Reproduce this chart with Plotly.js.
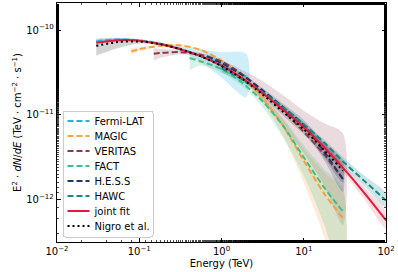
<!DOCTYPE html>
<html>
<head>
<meta charset="utf-8">
<script src="https://cdn.plot.ly/plotly-3.0.1.min.js"></script>
<style>html,body{margin:0;padding:0;background:#fff;}#plot{width:398px;height:272px;}</style>
</head>
<body>
<div id="plot"></div>
<script>
// ---- data (E in TeV, E^2 dN/dE in TeV cm^-2 s^-1) ----
const seriesNames = ["Fermi-LAT", "MAGIC", "VERITAS", "FACT", "H.E.S.S", "HAWC", "joint fit", "Nigro et al."];

const E_fermi   = [0.03, 0.056, 0.1, 0.178, 0.316, 0.562, 1, 2];
const F_fermi   = [7.41e-11, 7.76e-11, 7.59e-11, 6.92e-11, 6.03e-11, 4.95e-11, 3.89e-11, 2.82e-11];
const Fhi_fermi = [7.67e-11, 8.04e-11, 7.85e-11, 7.24e-11, 6.46e-11, 5.89e-11, 5.50e-11, 5.25e-11];
const Flo_fermi = [7.16e-11, 7.50e-11, 7.33e-11, 6.61e-11, 5.62e-11, 4.17e-11, 2.75e-11, 1.62e-11];

const E_magic   = [0.08, 0.1, 0.178, 0.316, 0.562, 1, 1.78, 3.16, 5.62, 10, 17.8, 30];
const F_magic   = [5.62e-11, 5.96e-11, 6.53e-11, 6.61e-11, 5.82e-11, 4.37e-11, 2.82e-11, 1.58e-11, 7.41e-12, 2.88e-12, 1.17e-12, 6.03e-13];
const Fhi_magic = [6.17e-11, 6.31e-11, 6.76e-11, 6.76e-11, 5.96e-11, 4.47e-11, 2.95e-11, 1.74e-11, 8.91e-12, 3.98e-12, 2.09e-12, 1.26e-12];
const Flo_magic = [5.13e-11, 5.62e-11, 6.31e-11, 6.46e-11, 5.69e-11, 4.27e-11, 2.66e-11, 1.38e-11, 5.62e-12, 1.58e-12, 3.55e-13, 5.0e-14];

const E_veritas   = [0.15, 0.178, 0.316, 0.562, 1, 1.78, 3.16, 5.62, 10, 17.8, 30];
const F_veritas   = [5.25e-11, 5.37e-11, 5.50e-11, 5.13e-11, 4.27e-11, 3.02e-11, 1.91e-11, 1.12e-11, 6.31e-12, 3.39e-12, 1.74e-12];
const Fhi_veritas = [6.10e-11, 6.03e-11, 5.82e-11, 5.37e-11, 4.47e-11, 3.39e-11, 2.51e-11, 1.70e-11, 1.12e-11, 7.94e-12, 6.03e-12];
const Flo_veritas = [4.37e-11, 4.68e-11, 5.19e-11, 4.90e-11, 4.07e-11, 2.69e-11, 1.45e-11, 7.41e-12, 3.55e-12, 1.45e-12, 5.01e-13];

const E_fact   = [0.41, 0.562, 1, 1.78, 3.16, 5.62, 10, 17.8, 30];
const F_fact   = [4.68e-11, 4.27e-11, 3.47e-11, 2.40e-11, 1.45e-11, 7.41e-12, 3.16e-12, 1.38e-12, 7.24e-13];
const Fhi_fact = [5.25e-11, 4.68e-11, 3.72e-11, 2.57e-11, 1.62e-11, 9.12e-12, 4.37e-12, 2.29e-12, 1.38e-12];
const Flo_fact = [3.39e-11, 3.80e-11, 3.16e-11, 2.19e-11, 1.23e-11, 5.37e-12, 1.91e-12, 5.01e-13, 1.0e-13];

const E_hess   = [0.66, 1, 1.78, 3.16, 5.62, 10, 17.8, 30];
const F_hess   = [4.90e-11, 4.07e-11, 2.95e-11, 1.95e-11, 1.23e-11, 7.59e-12, 3.63e-12, 1.74e-12];
const Fhi_hess = [5.25e-11, 4.27e-11, 3.09e-11, 2.07e-11, 1.35e-11, 8.71e-12, 4.57e-12, 2.45e-12];
const Flo_hess = [4.57e-11, 3.89e-11, 2.82e-11, 1.84e-11, 1.12e-11, 6.61e-12, 2.88e-12, 1.23e-12];

const E_hawc   = [1, 1.78, 3.16, 5.62, 10, 17.8, 31.6, 56.2, 100];
const F_hawc   = [3.55e-11, 2.63e-11, 1.86e-11, 1.23e-11, 7.76e-12, 4.68e-12, 2.69e-12, 1.62e-12, 9.77e-13];
const Fhi_hawc = [3.98e-11, 2.82e-11, 1.95e-11, 1.29e-11, 8.22e-12, 5.07e-12, 3.02e-12, 1.88e-12, 1.19e-12];
const Flo_hawc = [3.16e-11, 2.45e-11, 1.78e-11, 1.17e-11, 7.33e-12, 4.32e-12, 2.40e-12, 1.40e-12, 8.04e-13];

const E_joint   = [0.03, 0.056, 0.1, 0.178, 0.316, 0.562, 1, 1.78, 3.16, 5.62, 10, 17.8, 31.6, 56.2, 100];
const F_joint   = [7.08e-11, 7.59e-11, 7.50e-11, 6.84e-11, 5.96e-11, 4.90e-11, 3.80e-11, 2.72e-11, 1.80e-11, 1.15e-11, 7.16e-12, 4.12e-12, 2.24e-12, 1.15e-12, 5.69e-13];
const Fhi_joint = [7.33e-11, 7.85e-11, 7.67e-11, 7.00e-11, 6.10e-11, 5.01e-11, 3.89e-11, 2.79e-11, 1.86e-11, 1.20e-11, 7.59e-12, 4.47e-12, 2.51e-12, 1.36e-12, 7.16e-13];
const Flo_joint = [6.84e-11, 7.33e-11, 7.33e-11, 6.68e-11, 5.82e-11, 4.79e-11, 3.72e-11, 2.66e-11, 1.74e-11, 1.10e-11, 6.76e-12, 3.80e-12, 2.00e-12, 9.66e-13, 4.52e-13];

const E_nigro   = [0.03, 0.056, 0.1, 0.178, 0.316, 0.562, 1, 1.78, 3.16, 5.62, 10, 17.8, 30];
const F_nigro   = [6.53e-11, 7.24e-11, 7.33e-11, 6.84e-11, 5.96e-11, 4.90e-11, 3.76e-11, 2.66e-11, 1.74e-11, 1.08e-11, 6.76e-12, 3.80e-12, 2.19e-12];
const Fhi_nigro = [7.94e-11, 8.13e-11, 7.76e-11, 7.08e-11, 6.10e-11, 5.01e-11, 3.89e-11, 2.79e-11, 1.86e-11, 1.20e-11, 7.76e-12, 4.68e-12, 2.88e-12];
const Flo_nigro = [5.01e-11, 6.17e-11, 6.92e-11, 6.61e-11, 5.82e-11, 4.79e-11, 3.63e-11, 2.54e-11, 1.62e-11, 9.77e-12, 5.89e-12, 3.09e-12, 1.58e-12];

const xTickVals = [0.01, 0.1, 1, 10, 100];
const xTickText = ["10<sup>−2</sup>", "10<sup>−1</sup>", "10<sup>0</sup>", "10<sup>1</sup>", "10<sup>2</sup>"];
const yTickVals = [1e-12, 1e-11, 1e-10];
const yTickText = ["10<sup>−12</sup>", "10<sup>−11</sup>", "10<sup>−10</sup>"];

// ---- styling ----
const lineColors = ["#1fb3dd", "#f9a03f", "#8c3b48", "#3fbf86", "#1b3a6b", "#158a87", "#e31a3d", "#000000"];
const bandColors = ["rgba(31,179,221,0.22)", "rgba(249,160,63,0.2)", "rgba(140,59,72,0.18)", "rgba(63,191,134,0.2)",
                    "rgba(27,58,107,0.2)", "rgba(21,138,135,0.22)", "rgba(227,26,61,0.15)", "rgba(0,0,0,0.17)"];

const sets = [
  [E_fermi, F_fermi, Fhi_fermi, Flo_fermi],
  [E_magic, F_magic, Fhi_magic, Flo_magic],
  [E_veritas, F_veritas, Fhi_veritas, Flo_veritas],
  [E_fact, F_fact, Fhi_fact, Flo_fact],
  [E_hess, F_hess, Fhi_hess, Flo_hess],
  [E_hawc, F_hawc, Fhi_hawc, Flo_hawc],
  [E_joint, F_joint, Fhi_joint, Flo_joint],
  [E_nigro, F_nigro, Fhi_nigro, Flo_nigro]
];

const traces = [];
sets.forEach((s, i) => {
  const [E, F, hi, lo] = s;
  traces.push({
    x: E.concat(E.slice().reverse()),
    y: hi.concat(lo.slice().reverse()),
    type: "scatter", mode: "lines", fill: "toself",
    fillcolor: bandColors[i], line: {width: 0, shape: "spline", smoothing: 0.8},
    hoverinfo: "skip", showlegend: false
  });
});
sets.forEach((s, i) => {
  const [E, F] = s;
  let dash = "6px,3px";
  if (i === 6) dash = "solid";
  if (i === 7) dash = "2px,3px";
  traces.push({
    x: E, y: F, type: "scatter", mode: "lines", name: seriesNames[i],
    line: {color: lineColors[i], width: 2, dash: dash, shape: "spline", smoothing: 0.8}
  });
});

const axisCommon = {
  type: "log", showgrid: false, zeroline: false,
  showline: true, linecolor: "#000", linewidth: 1.3, mirror: "allticks",
  ticks: "inside", ticklen: 4, tickwidth: 1, tickcolor: "#000",
  tickfont: {size: 10, color: "#000"},
  minor: {ticks: "inside", ticklen: 2, tickwidth: 0.7, tickcolor: "#000", showgrid: false}
};

const layout = {
  width: 398, height: 272,
  margin: {l: 57, r: 12, t: 3, b: 30},
  paper_bgcolor: "#fff", plot_bgcolor: "#fff",
  font: {family: "DejaVu Sans", size: 10, color: "#000"},
  showlegend: true,
  legend: {
    x: 0.017, y: 0.022, xanchor: "left", yanchor: "bottom",
    bgcolor: "rgba(255,255,255,0.9)", bordercolor: "#cccccc", borderwidth: 1,
    font: {size: 10}, itemwidth: 30, tracegroupgap: 0
  },
  xaxis: Object.assign({}, axisCommon, {
    range: [-2, 2], tickvals: xTickVals, ticktext: xTickText,
    title: {text: "Energy (TeV)", font: {size: 10}, standoff: 3}
  }),
  yaxis: Object.assign({}, axisCommon, {
    range: [-12.5, -9.68], tickvals: yTickVals, ticktext: yTickText,
    title: {text: "E<sup>2</sup> · <i>dN</i>/<i>dE</i> (TeV · cm<sup>−2</sup> · s<sup>−1</sup>)", font: {size: 10}, standoff: 2}
  })
};

Plotly.newPlot("plot", traces, layout, {staticPlot: true, displayModeBar: false}).then(function (gd) {
  // compact the legend to the matplotlib-like spacing of the reference
  const leg = gd.querySelector(".legend");
  if (!leg) return;
  const step = 15, first = 10.5, boxH = 126, boxW = 90;
  leg.querySelectorAll(".traces").forEach(function (it, i) {
    const m = /translate\(([-\d.]+)[ ,]+([-\d.]+)\)/.exec(it.getAttribute("transform") || "");
    const tx = m ? m[1] : 0;
    it.setAttribute("transform", "translate(" + tx + "," + (first + i * step) + ")");
  });
  leg.querySelectorAll(".legendlines path").forEach(function (p) { p.setAttribute("d", "M4,0h22"); });
  leg.querySelectorAll("text.legendtext").forEach(function (t) { t.setAttribute("x", "31"); });
  const bg = leg.querySelector("rect.bg");
  if (bg) { bg.setAttribute("height", boxH); bg.setAttribute("width", boxW); bg.setAttribute("rx", 2); bg.setAttribute("ry", 2); }
  leg.setAttribute("transform", "translate(62.5,110.5)");
});
</script>
</body>
</html>
